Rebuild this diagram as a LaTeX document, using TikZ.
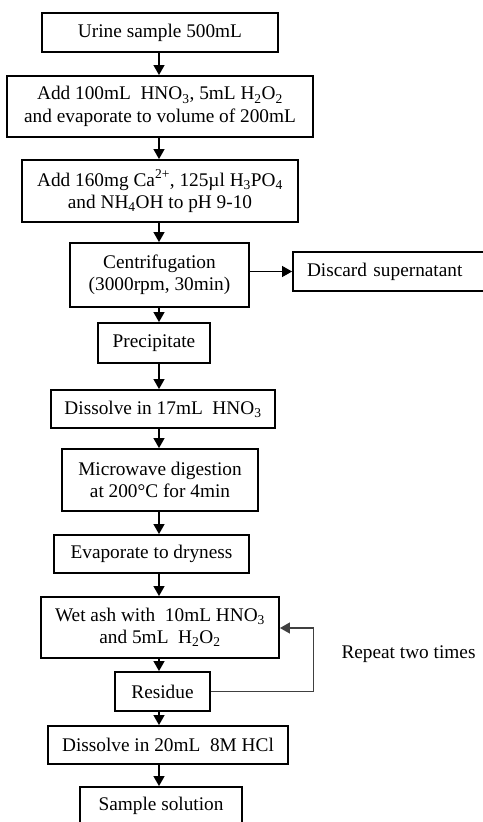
\documentclass[tikz,border=0pt]{standalone}
\usepackage{fontspec}
\setmainfont{Liberation Serif}
\usetikzlibrary{arrows.meta}
\tikzset{
  box/.style={draw=black, line width=1.9pt, inner sep=0pt, align=center,
    font=\fontsize{19.3}{22.3}\selectfont},
  arr/.style={line width=1.3pt, -{Triangle[width=11pt,length=10pt]}},
  loopline/.style={line width=1.3pt, draw=black!75, -{Triangle[width=11pt,length=10pt]}}
}
\newcommand{\sbs}[1]{\textsubscript{#1}}
\begin{document}
\begin{tikzpicture}[x=1pt,y=-1pt]
\useasboundingbox (0,0) rectangle (482,822);
\coordinate (axis) at (159,0);
\node[box, minimum width=236pt, minimum height=39pt] (urine) at (160,32.5) {Urine sample 500mL};
\node[box, minimum width=306pt, minimum height=61pt] (add1) at (160,106.5) {Add 100mL\ \ HNO\sbs{3}, 5mL H\sbs{2}O\sbs{2}\\and evaporate to volume of 200mL};
\node[box, minimum width=276pt, minimum height=62pt] (add2) at (160,191) {Add 160mg Ca\textsuperscript{2+}, 125µl H\sbs{3}PO\sbs{4}\\and NH\sbs{4}OH to pH 9-10};
\node[box, minimum width=179pt, minimum height=64pt] (cent) at (159.5,275) {Centrifugation\\(3000rpm, 30min)};
\node[box, minimum width=200pt, minimum height=39pt, text width=196pt, align=left] (disc) at (393,271.5) {\hspace*{12pt}Discard supernatant};
\node[box, minimum width=112pt, minimum height=40pt] (prec) at (154,343) {Precipitate};
\node[box, minimum width=224pt, minimum height=38pt] (diss17) at (163,409) {Dissolve in 17mL\ \ HNO\sbs{3}};
\node[box, minimum width=196pt, minimum height=62pt] (micro) at (160,480) {Microwave digestion\\at 200°C for 4min};
\node[box, minimum width=195pt, minimum height=38pt] (evap) at (151.5,554) {Evaporate to dryness};
\node[box, minimum width=238pt, minimum height=61pt] (wet) at (160,627.5) {Wet ash with\ \ 10mL HNO\sbs{3}\\and 5mL\ \ H\sbs{2}O\sbs{2}};
\node[box, minimum width=95pt, minimum height=39pt] (res) at (162.5,691.5) {Residue};
\node[box, minimum width=240pt, minimum height=38pt] (diss20) at (168,745) {Dissolve in 20mL\ \ 8M HCl};
\node[box, minimum width=162pt, minimum height=50pt, text depth=0pt] (samp) at (161,812) {};
\node[font=\fontsize{19.3}{22.3}\selectfont, anchor=base] (sampt) at (161,810) {Sample solution};
\node[font=\fontsize{19.3}{22.3}\selectfont] (rep) at (408.5,654) {Repeat two times};
\draw[arr] (urine.south -| axis) -- (add1.north -| axis);
\draw[arr] (add1.south -| axis) -- (add2.north -| axis);
\draw[arr] (add2.south -| axis) -- (cent.north -| axis);
\draw[arr] (cent.east |- disc.west) -- (disc.west);
\draw[arr] (cent.south -| axis) -- (prec.north -| axis);
\draw[arr] (prec.south -| axis) -- (diss17.north -| axis);
\draw[arr] (diss17.south -| axis) -- (micro.north -| axis);
\draw[arr] (micro.south -| axis) -- (evap.north -| axis);
\draw[arr] (evap.south -| axis) -- (wet.north -| axis);
\draw[arr] (wet.south -| axis) -- (res.north -| axis);
\draw[arr] (res.south -| axis) -- (diss20.north -| axis);
\draw[arr] (diss20.south -| axis) -- (samp.north -| axis);
\coordinate (loopx) at (313.5,0);
\draw[loopline] (res.east) -- (res.east -| loopx) -- ([yshift=-0.5pt]wet.east -| loopx) |- ([yshift=-0.5pt]wet.east);
\end{tikzpicture}
\end{document}
